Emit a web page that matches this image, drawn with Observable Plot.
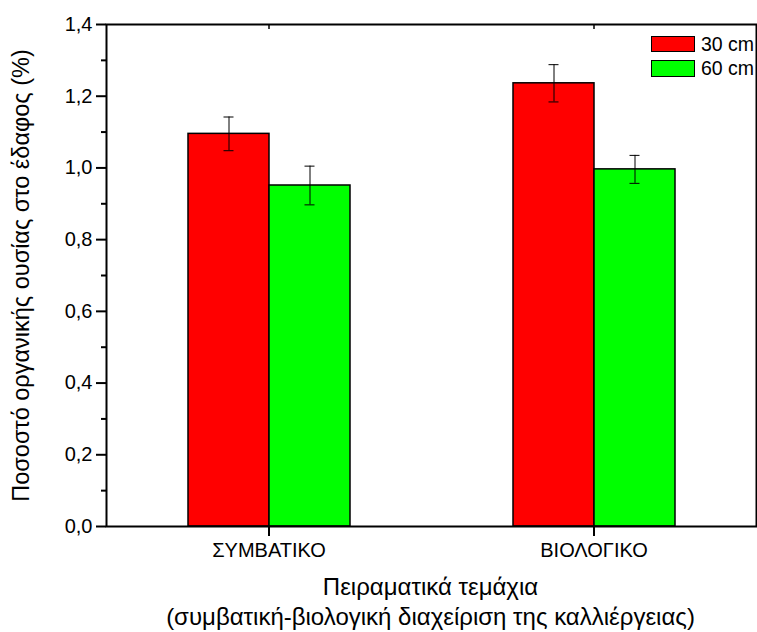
<!DOCTYPE html>
<html><head><meta charset="utf-8">
<script src="https://cdn.jsdelivr.net/npm/d3@7"></script>
<script src="https://cdn.jsdelivr.net/npm/@observablehq/plot@0.6"></script>
<style>
body{margin:0;background:#fff;}
#wrap{position:relative;width:757px;height:632px;overflow:hidden;font-family:"Liberation Sans",Arial,sans-serif;color:#000;}
#xlabel{position:absolute;left:105px;width:651px;top:572px;text-align:center;font-size:24px;line-height:30px;white-space:nowrap;}
#legend{position:absolute;left:651px;top:32px;font-size:19.5px;}
.item{display:flex;align-items:center;height:24.4px;white-space:nowrap;}
.sw{width:42px;height:14.5px;border:1px solid #000;margin-right:6px;box-sizing:content-box;}
</style></head><body><div id="wrap"></div>
<script>
const categories = ["ΣΥΜΒΑΤΙΚΟ", "ΒΙΟΛΟΓΙΚΟ"];
const series = ["30 cm", "60 cm"];
const colors = ["#ff0000", "#00ff00"];
const values30 = [1.095, 1.236];
const errors30 = [0.047, 0.052];
const values60 = [0.951, 0.996];
const errors60 = [0.054, 0.039];
const yTicks = [0, 0.2, 0.4, 0.6, 0.8, 1.0, 1.2, 1.4];
const yMinorTicks = [0.1, 0.3, 0.5, 0.7, 0.9, 1.1, 1.3];
const yLabel = "Ποσοστό οργανικής ουσίας στο έδαφος (%)";
const xLabelLines = ["Πειραματικά τεμάχια", "(συμβατική-βιολογική διαχείριση της καλλιέργειας)"];

const data = categories.flatMap((c, i) => [
  {category: c, series: series[0], value: values30[i], err: errors30[i]},
  {category: c, series: series[1], value: values60[i], err: errors60[i]}
]);
const fmt = d => d.toFixed(1).replace(".", ",");
const blank = () => "";

const plot = Plot.plot({
  width: 757, height: 632,
  marginLeft: 105, marginRight: 1, marginTop: 24, marginBottom: 106,
  style: {fontFamily: "'Liberation Sans', Arial, sans-serif", fontSize: "20px", color: "black", background: "white", overflow: "visible"},
  fx: {domain: categories, padding: 0, label: null, axis: null},
  x: {domain: series, paddingInner: 0, paddingOuter: 1, axis: null},
  y: {domain: [0, 1.4], label: null, axis: null},
  color: {domain: series, range: colors},
  marks: [
    Plot.barY(data, {fx: "category", x: "series", y: "value", fill: "series", stroke: "black", strokeWidth: 1.5}),
    Plot.ruleX(data, {fx: "category", x: "series", y1: d => d.value - d.err, y2: d => d.value + d.err, stroke: "black", strokeWidth: 1}),
    Plot.tickY(data, {fx: "category", x: "series", y: d => d.value - d.err, insetLeft: 35.5, insetRight: 35.5, stroke: "black", strokeWidth: 1}),
    Plot.tickY(data, {fx: "category", x: "series", y: d => d.value + d.err, insetLeft: 35.5, insetRight: 35.5, stroke: "black", strokeWidth: 1}),
    Plot.frame({facet: "super", stroke: "black", strokeWidth: 2}),
    Plot.axisY({ticks: yTicks, tickFormat: fmt, tickSize: 10, tickPadding: 4, fontSize: 20, strokeWidth: 2, label: null}),
    Plot.axisY({ticks: yMinorTicks, tickFormat: blank, tickSize: 5, strokeWidth: 2, label: null}),
    Plot.axisY({ticks: [], fontSize: 23.5, label: yLabel, labelAnchor: "center", labelArrow: "none", labelOffset: 94}),
    Plot.axisFx({anchor: "bottom", tickSize: 10, tickPadding: 6, fontSize: 20, strokeWidth: 2, label: null}),
    Plot.axisFx({anchor: "top", tickSize: -4, tickFormat: blank, strokeWidth: 1.5, label: null})
  ]
});

const wrap = document.getElementById("wrap");
wrap.appendChild(plot);
const xl = document.createElement("div");
xl.id = "xlabel";
xl.innerHTML = xLabelLines.map(s => `<div>${s}</div>`).join("");
wrap.appendChild(xl);
const lg = document.createElement("div");
lg.id = "legend";
lg.innerHTML = series.map((s, i) => `<div class="item"><div class="sw" style="background:${colors[i]}"></div>${s}</div>`).join("");
wrap.appendChild(lg);
</script></body></html>
